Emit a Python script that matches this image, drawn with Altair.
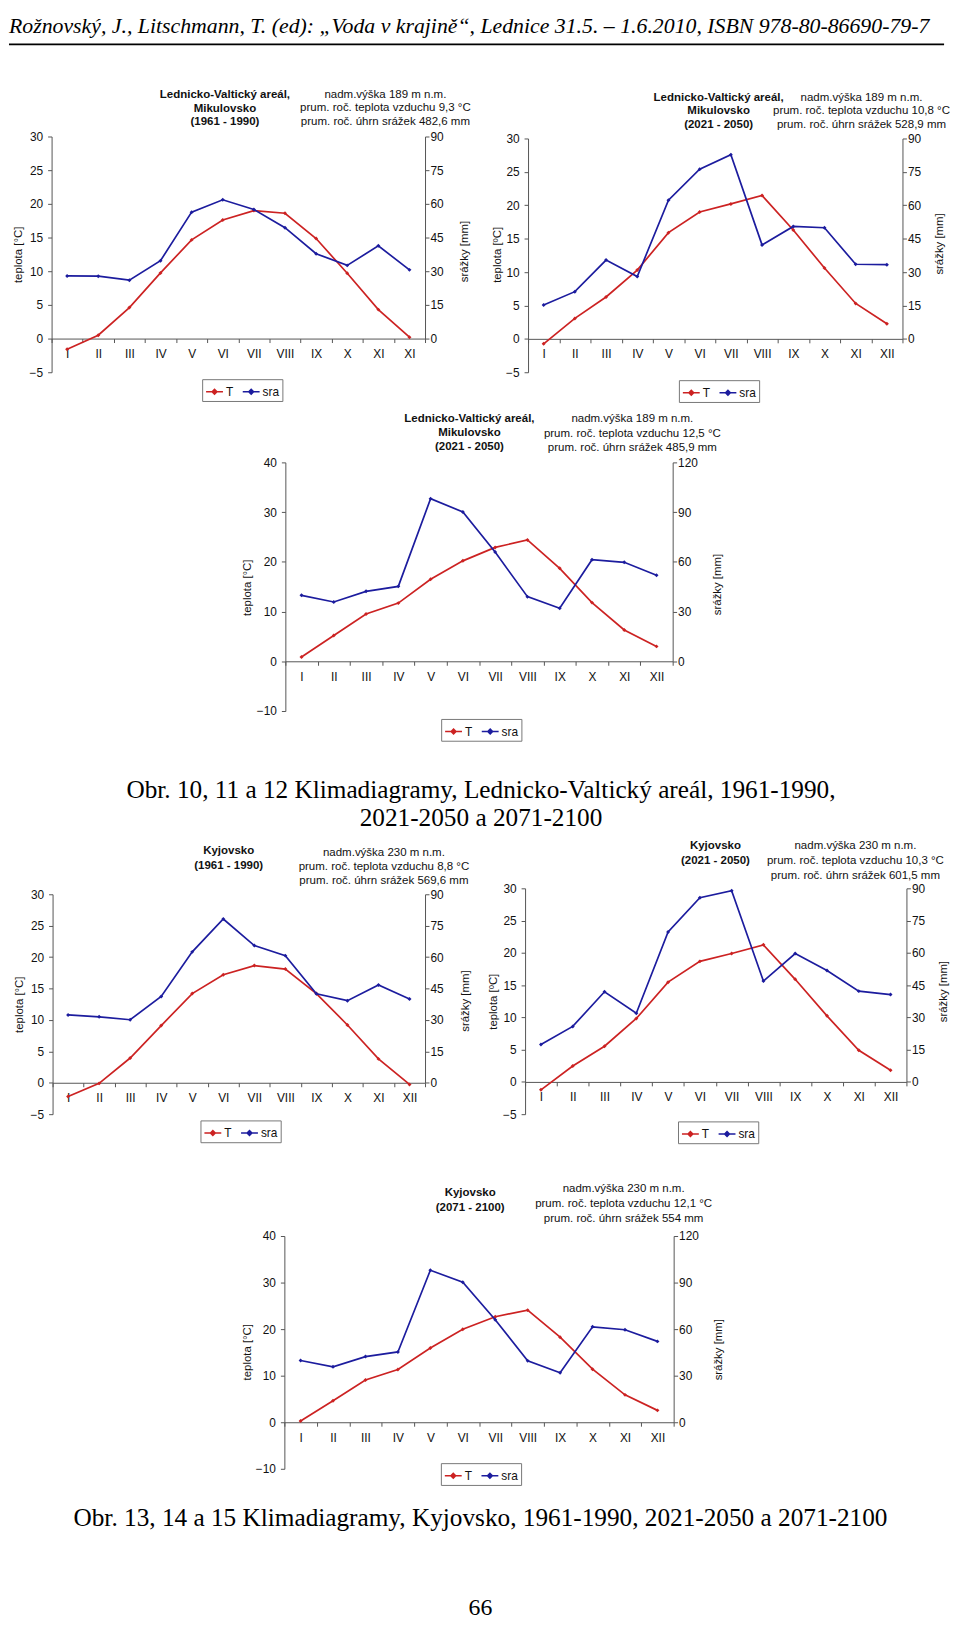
import json
import altair as alt
import pandas as pd

# ---------------- data ----------------
MONTHS = list(range(1, 13))
ROMAN = ["I", "II", "III", "IV", "V", "VI", "VII", "VIII", "IX", "X", "XI", "XII"]
ROMAN_C1 = ["I", "II", "III", "IV", "V", "VI", "VII", "VIII", "IX", "X", "XI", "XI"]

T_LVA_6190 = [-1.6, 0.5, 4.6, 9.75, 14.65, 17.6, 19.0, 18.6, 14.85, 9.7, 4.3, 0.2]
S_LVA_6190 = [27.9, 27.8, 26.0, 34.7, 56.3, 61.8, 57.5, 49.4, 37.8, 32.6, 41.3, 30.6]
T_LVA_2150 = [-0.74, 3.06, 6.27, 10.3, 15.9, 19.0, 20.2, 21.46, 16.3, 10.6, 5.3, 2.27]
S_LVA_2150 = [15.2, 21.2, 35.4, 28.0, 62.3, 76.2, 82.7, 42.2, 50.5, 49.9, 33.5, 33.3]
T_LVA_7100 = [0.86, 5.2, 9.5, 11.7, 16.5, 20.2, 22.9, 24.4, 18.7, 11.8, 6.3, 3.0]
S_LVA_7100 = [39.8, 35.8, 42.2, 45.2, 98.1, 90.1, 65.9, 39.0, 32.0, 61.3, 59.7, 51.9]
T_KYJ_6190 = [-2.2, -0.1, 3.94, 9.1, 14.2, 17.2, 18.65, 18.1, 14.2, 9.2, 3.8, -0.26]
S_KYJ_6190 = [32.4, 31.5, 30.1, 41.2, 62.5, 78.2, 65.5, 60.7, 42.5, 39.2, 46.7, 40.0]
T_KYJ_2150 = [-1.23, 2.46, 5.53, 9.83, 15.46, 18.68, 19.9, 21.24, 15.9, 10.24, 4.9, 1.8]
S_KYJ_2150 = [17.4, 25.8, 41.9, 31.9, 69.7, 85.6, 88.9, 46.9, 59.7, 51.8, 42.2, 40.6]
T_KYJ_7100 = [0.28, 4.6, 9.07, 11.33, 15.93, 19.97, 22.66, 24.08, 18.27, 11.4, 5.88, 2.55]
S_KYJ_7100 = [39.8, 35.7, 42.3, 45.3, 97.9, 90.2, 66.0, 39.6, 31.9, 61.5, 59.6, 52.1]

TITLE_1 = ["Lednicko-Valtický areál,", "Mikulovsko", "(1961 - 1990)"]
TITLE_2 = ["Lednicko-Valtický areál,", "Mikulovsko", "(2021 - 2050)"]
TITLE_3 = ["Lednicko-Valtický areál,", "Mikulovsko", "(2021 - 2050)"]
TITLE_4 = ["Kyjovsko", "(1961 - 1990)"]
TITLE_5 = ["Kyjovsko", "(2021 - 2050)"]
TITLE_6 = ["Kyjovsko", "(2071 - 2100)"]

INFO_1 = ["nadm.výška 189 m n.m.", "prum. roč. teplota  vzduchu 9,3 °C", "prum. roč. úhrn srážek 482,6 mm"]
INFO_2 = ["nadm.výška 189 m n.m.", "prum. roč. teplota  vzduchu 10,8 °C", "prum. roč. úhrn srážek 528,9 mm"]
INFO_3 = ["nadm.výška 189 m n.m.", "prum. roč. teplota  vzduchu 12,5 °C", "prum. roč. úhrn srážek 485,9 mm"]
INFO_4 = ["nadm.výška 230 m n.m.", "prum. roč. teplota  vzduchu 8,8 °C", "prum. roč. úhrn srážek 569,6 mm"]
INFO_5 = ["nadm.výška 230 m n.m.", "prum. roč. teplota  vzduchu 10,3 °C", "prum. roč. úhrn srážek 601,5 mm"]
INFO_6 = ["nadm.výška 230 m n.m.", "prum. roč. teplota  vzduchu 12,1 °C", "prum. roč. úhrn srážek 554 mm"]

SERIES = ["T", "sra"]

HEADER = "Rožnovský, J., Litschmann, T. (ed): „Voda v krajině“,  Lednice 31.5. – 1.6.2010, ISBN 978-80-86690-79-7"
CAPTION_1 = ["Obr. 10, 11 a 12 Klimadiagramy, Lednicko-Valtický areál, 1961-1990,", "2021-2050 a 2071-2100"]
CAPTION_2 = "Obr. 13, 14 a 15 Klimadiagramy, Kyjovsko, 1961-1990, 2021-2050 a 2071-2100"
PAGE_NO = "66"

# ---------------- styles / geometry ----------------
FONT = "Liberation Sans"
SERIF = "Liberation Serif"
RED = "#cc2222"
BLUE = "#1c1c9e"
AXC = "#555555"
TXT = 11.6
ONE = pd.DataFrame({"k": [0]})
LEG_SYMBOL = "M-1,0L1,0M-0.28,0L0,-0.28L0.28,0L0,0.28Z"

G1 = dict(w=377, h=238, top=0, t=(-5, 30, 5), s=(90, 15), tx=175, ty=-38.7, tlh=13.5,
          ix=337, iy=-39.3, ilh=13.8, ltx=-33, lty=119, rtx=40, rty=115.7, lx=152, ly=245,
          ltitle="teplota  [°C]")
G2 = dict(w=378, h=238, top=2, t=(-5, 30, 5), s=(90, 15), tx=192.4, ty=-36, tlh=13.7,
          ix=336.6, iy=-36, ilh=13.8, ltx=-31, lty=119, rtx=37.5, rty=108, lx=152.3, ly=246,
          ltitle="teplota [ºC]")
G3 = dict(w=391, h=251, top=0, t=(-10, 40, 10), s=(120, 30), tx=185.8, ty=-40.3, tlh=14,
          ix=350.3, iy=-40.3, ilh=14.5, ltx=-38, lty=126, rtx=45.3, rty=122.8, lx=157.3, ly=259,
          ltitle="teplota  [°C]")
G4 = dict(w=376, h=228, top=6, t=(-5, 30, 5), s=(90, 15), tx=177.8, ty=-34.7, tlh=15,
          ix=334.5, iy=-33, ilh=14.3, ltx=-33.4, lty=117, rtx=41, rty=113.3, lx=149.3, ly=234.3,
          ltitle="teplota  [°C]")
G5 = dict(w=385, h=228, top=0, t=(-5, 30, 5), s=(90, 15), tx=192.2, ty=-39.4, tlh=15,
          ix=333.5, iy=-39.4, ilh=14.8, ltx=-32.1, lty=114, rtx=37, rty=103.8, lx=154.4, ly=235.3,
          ltitle="teplota [ºC]")
G6 = dict(w=393, h=235, top=0, t=(-10, 40, 10), s=(120, 30), tx=187.6, ty=-40.7, tlh=15,
          ix=342.5, iy=-44, ilh=15, ltx=-37.3, lty=116.8, rtx=45, rty=114.3, lx=158, ly=229.3,
          ltitle="teplota  [°C]")

TOP_SHIFT = 9  # compensates the offset observed above the first row
# vertical gaps between the rows of the page (spacer heights)
GAP_1 = 238 + 89 + 2
GAP_2 = 251 + 5
CAP1_H = 173.7
GAP_3 = 228 + 119 + 4
GAP_4 = 235 + 2


def spacer(w, h):
    return alt.Chart(ONE).mark_point(opacity=0, size=0, strokeWidth=0).encode(
        x=alt.value(1), y=alt.value(1)).properties(width=w, height=h)


def panel(temps, precs, labels, title_lines, info_lines, g):
    w, h, top = g["w"], g["h"], g["top"]
    tmin, tmax, tstep = g["t"]
    smax, sstep = g["s"]
    zero = top + (h - top) * tmax / (tmax - tmin)
    df = pd.DataFrame({"mesic": MONTHS, "T": temps, "sra": precs}).melt(
        "mesic", var_name="rada", value_name="hodnota")
    expr = "datum.value > 12 ? '' : " + json.dumps(labels) + "[round(datum.value - 0.5)]"
    x = alt.X("mesic:Q",
              scale=alt.Scale(domain=[0.5, 12.5], nice=False, zero=False),
              axis=alt.Axis(values=[k + 0.5 for k in range(13)], labelExpr=expr,
                            labelOffset=w / 24, labelFlush=False, labelOverlap=False,
                            offset=-(h - zero), tickSize=4, labelPadding=6, title=None,
                            grid=False, labelAngle=0, labelFontSize=12))
    color = alt.Color("rada:N", scale=alt.Scale(domain=SERIES, range=[RED, BLUE]),
                      legend=alt.Legend(title=None, orient="none", legendX=g["lx"], legendY=g["ly"],
                                        direction="horizontal", symbolType=LEG_SYMBOL,
                                        symbolSize=290, symbolStrokeWidth=1.6,
                                        labelFont=FONT, labelFontSize=12, labelColor="#111",
                                        strokeColor="#777", padding=3, columnPadding=5,
                                        labelOffset=2))
    pt = alt.OverlayMarkDef(filled=True, size=16, shape="diamond")
    t_line = alt.Chart(df).transform_filter("datum.rada == 'T'").mark_line(
        strokeWidth=1.7, point=pt).encode(
        x=x,
        y=alt.Y("hodnota:Q",
                scale=alt.Scale(domain=[tmin, tmax], range=[h, top], nice=False, zero=False),
                axis=alt.Axis(orient="left", values=list(range(tmin, tmax + 1, tstep)),
                              title=g["ltitle"], titleX=g["ltx"], titleY=g["lty"],
                              titleAngle=270, titleAlign="center", titleBaseline="middle",
                              tickSize=4, labelPadding=5, grid=False)),
        color=color)
    s_line = alt.Chart(df).transform_filter("datum.rada == 'sra'").mark_line(
        strokeWidth=1.7, point=pt).encode(
        x=x,
        y=alt.Y("hodnota:Q",
                scale=alt.Scale(domain=[0, smax], range=[zero, top], nice=False, zero=False),
                axis=alt.Axis(orient="right", values=list(range(0, smax + 1, sstep)),
                              title="srážky [mm]", titleX=g["rtx"], titleY=g["rty"],
                              titleAngle=270, titleAlign="center", titleBaseline="middle",
                              tickSize=4, labelPadding=1, grid=False)),
        color=color)
    ttl = alt.Chart(ONE).mark_text(font=FONT, fontSize=TXT, fontWeight="bold", align="center",
                                   baseline="alphabetic", lineHeight=g["tlh"], color="#111").encode(
        x=alt.value(g["tx"]), y=alt.value(g["ty"]), text=alt.value(title_lines))
    inf = alt.Chart(ONE).mark_text(font=FONT, fontSize=TXT, align="center",
                                   baseline="alphabetic", lineHeight=g["ilh"], color="#111").encode(
        x=alt.value(g["ix"]), y=alt.value(g["iy"]), text=alt.value(info_lines))
    return alt.layer(t_line, s_line, ttl, inf).resolve_scale(y="independent").properties(
        width=w, height=h)


def hrow(*items):
    return alt.hconcat(*items, spacing=0, bounds="flush").resolve_scale(color="independent")


c1 = panel(T_LVA_6190, S_LVA_6190, ROMAN_C1, TITLE_1, INFO_1, G1)
c2 = panel(T_LVA_2150, S_LVA_2150, ROMAN, TITLE_2, INFO_2, G2)
c3 = panel(T_LVA_7100, S_LVA_7100, ROMAN, TITLE_3, INFO_3, G3)
c4 = panel(T_KYJ_6190, S_KYJ_6190, ROMAN, TITLE_4, INFO_4, G4)
c5 = panel(T_KYJ_2150, S_KYJ_2150, ROMAN, TITLE_5, INFO_5, G5)
c6 = panel(T_KYJ_7100, S_KYJ_7100, ROMAN, TITLE_6, INFO_6, G6)

header = alt.layer(
    alt.Chart(ONE).mark_text(font=SERIF, fontSize=22, fontStyle="italic", align="left",
                             baseline="alphabetic", color="black").encode(
        x=alt.value(0), y=alt.value(15), text=alt.value(HEADER)),
    alt.Chart(ONE).mark_rule(color="black", strokeWidth=2).encode(
        x=alt.value(0), x2=alt.value(944), y=alt.value(35 - TOP_SHIFT)),
).properties(width=944, height=128 - TOP_SHIFT)

cap1 = alt.Chart(ONE).mark_text(font=SERIF, fontSize=25.5, align="center", baseline="alphabetic",
                                lineHeight=28, color="black").encode(
    x=alt.value(476.5), y=alt.value(83), text=alt.value(CAPTION_1)).properties(width=944, height=CAP1_H)

cap2 = alt.layer(
    alt.Chart(ONE).mark_text(font=SERIF, fontSize=25.5, align="center", baseline="alphabetic",
                             color="black").encode(
        x=alt.value(476), y=alt.value(55.3), text=alt.value(CAPTION_2)),
    alt.Chart(ONE).mark_text(font=SERIF, fontSize=24, align="center", baseline="alphabetic",
                             color="black").encode(
        x=alt.value(476), y=alt.value(146), text=alt.value(PAGE_NO)),
).properties(width=944, height=146)

row1 = hrow(spacer(43, 238), c1, spacer(103.7, 238), c2)
row3 = hrow(spacer(278.7, 251), c3)
row5 = hrow(spacer(43.7, 228), c4, spacer(100.6, 228), c5)
row7 = hrow(spacer(278, 235), c6)

# nested concat rows take no height in a flush layout: explicit spacers carry their heights
chart = alt.vconcat(header, row1, spacer(1, GAP_1), row3, spacer(1, GAP_2), cap1,
                    row5, spacer(1, GAP_3), row7, spacer(1, GAP_4), cap2,
                    spacing=0, bounds="flush").resolve_scale(color="independent").properties(
    padding=0).configure_view(stroke=None).configure_axis(
    labelFont=FONT, labelFontSize=12, labelColor="#111", titleFont=FONT, titleFontSize=11.5,
    titleFontWeight="normal", titleColor="#111", domainColor=AXC, tickColor=AXC, grid=False)

chart.save("out.html", embed_options={"renderer": "svg", "actions": False})
